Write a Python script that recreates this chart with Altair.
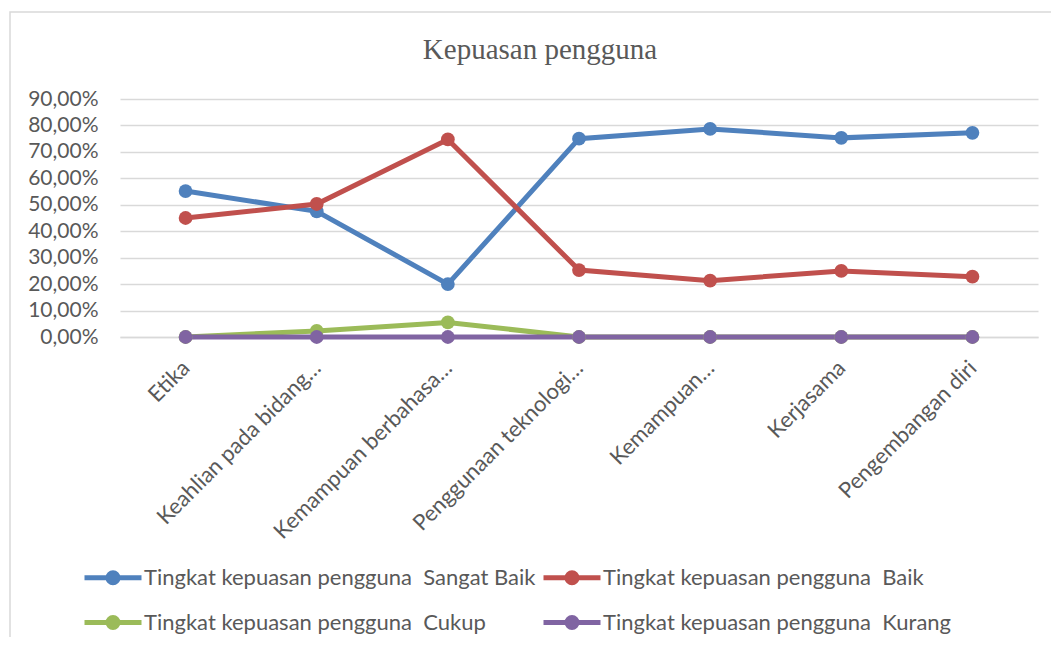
import altair as alt
import pandas as pd

categories = ["Etika", "Keahlian pada bidang…", "Kemampuan berbahasa…",
              "Penggunaan teknologi…", "Kemampuan…", "Kerjasama", "Pengembangan diri"]
series = ["Tingkat kepuasan pengguna\u00a0 Sangat Baik",
          "Tingkat kepuasan pengguna\u00a0 Baik",
          "Tingkat kepuasan pengguna\u00a0 Cukup",
          "Tingkat kepuasan pengguna\u00a0 Kurang"]
sangat_baik = [0.552, 0.475, 0.200, 0.750, 0.787, 0.753, 0.772]
baik = [0.450, 0.503, 0.747, 0.253, 0.213, 0.250, 0.228]
cukup = [0.000, 0.023, 0.055, 0.000, 0.000, 0.000, 0.000]
kurang = [0.000, 0.000, 0.000, 0.000, 0.000, 0.000, 0.000]
colors = ["#4F81BD", "#C0504D", "#9BBB59", "#8064A2"]
y_ticks = [0.0, 0.1, 0.2, 0.3, 0.4, 0.5, 0.6, 0.7, 0.8, 0.9]

rows = []
for s, vals in zip(series, [sangat_baik, baik, cukup, kurang]):
    for c, v in zip(categories, vals):
        rows.append({"kategori": c, "seri": s, "nilai": v})
df = pd.DataFrame(rows)

FONT = "Lato"
GREY = "#595959"
GRID = "#D9D9D9"

sym_path = "M-1,0L4.7,0M2.35,0A0.5,0.5,0,1,1,1.35,0A0.5,0.5,0,1,1,2.35,0Z"

x_enc = alt.X("kategori:N", sort=categories,
              scale=alt.Scale(type="point", padding=0.5),
              axis=alt.Axis(title=None, labelAngle=-45, ticks=False, grid=False,
                            domainColor=GRID, domainWidth=1.5,
                            labelFont=FONT, labelFontSize=22, labelColor=GREY,
                            labelLimit=0, labelPadding=20, labelOffset=-7))
y_enc = alt.Y("nilai:Q", scale=alt.Scale(domain=[0, 0.9], nice=False, zero=True),
              axis=alt.Axis(title=None, values=y_ticks,
                            labelExpr="replace(format(datum.value, '.2%'), '.', ',')",
                            domain=False, ticks=False, grid=True,
                            gridColor=GRID, gridWidth=1.5, labelPadding=22,
                            labelFont=FONT, labelFontSize=21, labelColor=GREY))

scale_c = alt.Scale(domain=series, range=colors)
legend = alt.Legend(title=None, orient="none", legendX=-38, legendY=466,
                    direction="horizontal",
                    columns=2, columnPadding=-3, rowPadding=14, padding=0,
                    symbolType=sym_path, symbolSize=400, symbolStrokeWidth=5,
                    labelOffset=37, labelFont=FONT, labelFontSize=22,
                    labelColor=GREY, labelLimit=0)

lines = alt.Chart(df).mark_line(strokeWidth=5).encode(
    x=x_enc, y=y_enc,
    stroke=alt.Stroke("seri:N", scale=scale_c, sort=series, legend=legend),
    order=alt.Order("seri:N"),
)
points = alt.Chart(df).mark_point(filled=True, size=190, opacity=1).encode(
    x=x_enc, y=y_enc,
    fill=alt.Fill("seri:N", scale=scale_c, sort=series, legend=legend),
)

frame = alt.Chart(pd.DataFrame({"a": [0]})).mark_rect(
    fill="transparent", stroke=GRID, strokeWidth=1.5
).encode(x=alt.value(-110), x2=alt.value(950), y=alt.value(-87), y2=alt.value(560))

chart = alt.layer(frame, lines, points).properties(
    width=918, height=238,
    padding={"left": 112, "top": 91, "right": 13, "bottom": 300},
    autosize=alt.AutoSizeParams(type="none"),
    title=alt.Title("Kepuasan pengguna", font="Liberation Serif", fontSize=29,
                    fontWeight="normal", color=GREY, anchor="middle", dx=-39,
                    offset=-77, baseline="alphabetic"),
).configure_view(stroke=None)

chart.save("out.html", embed_options={"renderer": "svg", "actions": False})
